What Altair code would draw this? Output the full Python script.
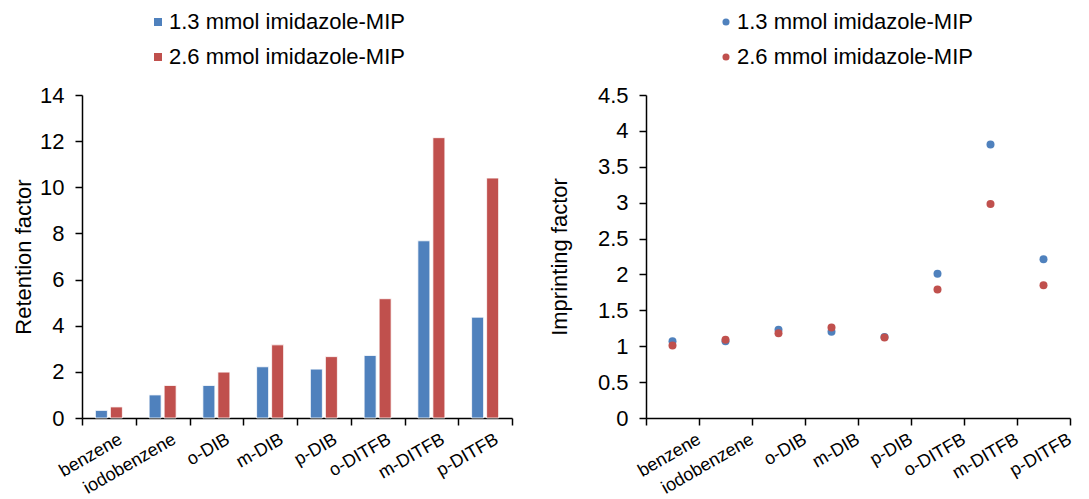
import altair as alt
import pandas as pd

compounds = ["benzene", "iodobenzene", "o-DIB", "m-DIB", "p-DIB", "o-DITFB", "m-DITFB", "p-DITFB"]
series = ["1.3 mmol imidazole-MIP", "2.6 mmol imidazole-MIP"]
retention_13 = [0.33, 1.00, 1.41, 2.22, 2.12, 2.71, 7.68, 4.37]
retention_26 = [0.48, 1.41, 1.99, 3.17, 2.66, 5.17, 12.15, 10.40]
imprint_13 = [1.07, 1.07, 1.23, 1.20, 1.13, 2.01, 3.81, 2.21]
imprint_26 = [1.01, 1.09, 1.18, 1.26, 1.12, 1.79, 2.98, 1.85]
colors = ["#4F81BD", "#C0504D"]
ret_ticks = [0, 2, 4, 6, 8, 10, 12, 14]
imp_ticks = [0, 0.5, 1, 1.5, 2, 2.5, 3, 3.5, 4, 4.5]

FONT = "Liberation Sans"
FS = 22
XFS = 18

df_ret = pd.DataFrame({
    "compound": compounds * 2,
    "series": [series[0]] * len(compounds) + [series[1]] * len(compounds),
    "value": retention_13 + retention_26,
})
df_imp = pd.DataFrame({
    "compound": compounds * 2,
    "series": [series[0]] * len(compounds) + [series[1]] * len(compounds),
    "value": imprint_13 + imprint_26,
})


def x_axis(offset):
    return alt.Axis(title=None, labelAngle=-30, labelAlign="right", labelBaseline="top",
                    labelFontSize=XFS, tickBand="extent", labelOffset=offset,
                    labelPadding=5, domainWidth=1.5)


left = alt.Chart(df_ret).mark_bar(stroke="white", strokeWidth=0.8).encode(
    x=alt.X("compound:N", sort=compounds,
            scale=alt.Scale(paddingInner=0, paddingOuter=0), axis=x_axis(7)),
    xOffset=alt.XOffset("series:N", sort=series,
                        scale=alt.Scale(paddingInner=0.2, paddingOuter=0.89)),
    y=alt.Y("value:Q", scale=alt.Scale(domain=[0, 14]),
            axis=alt.Axis(values=ret_ticks, title="Retention factor", grid=False,
                          labelPadding=11, titlePadding=4)),
    color=alt.Color("series:N", sort=series,
                    scale=alt.Scale(domain=series, range=colors),
                    legend=alt.Legend(title=None, orient="none", legendX=65, legendY=-84,
                                      symbolType="square", symbolSize=64,
                                      symbolStrokeWidth=0, labelOffset=0,
                                      rowPadding=13, padding=0)),
).properties(width=430, height=323)

right = alt.Chart(df_imp).mark_circle(size=64, opacity=1).encode(
    x=alt.X("compound:N", sort=compounds,
            scale=alt.Scale(type="band", paddingInner=0, paddingOuter=0), axis=x_axis(22)),
    y=alt.Y("value:Q", scale=alt.Scale(domain=[0, 4.5]),
            axis=alt.Axis(values=imp_ticks, format="~g", title="Imprinting factor",
                          grid=False, labelPadding=11, titlePadding=26)),
    color=alt.Color("series:N", sort=series,
                    scale=alt.Scale(domain=series, range=colors),
                    legend=alt.Legend(title=None, orient="none", legendX=69, legendY=-84,
                                      symbolType="circle", symbolSize=50,
                                      symbolStrokeWidth=0, labelOffset=0,
                                      rowPadding=13, padding=0)),
).properties(width=424, height=323)

chart = alt.hconcat(left, right, spacing=35).resolve_scale(color="independent").properties(
    padding={"left": 4, "top": 3, "right": 0, "bottom": 0}
).configure_view(stroke=None).configure_axis(
    domainColor="black", tickColor="black", domainWidth=1.5, tickWidth=1.5, tickSize=7,
    labelFont=FONT, labelFontSize=FS, labelColor="black",
    titleFont=FONT, titleFontSize=FS, titleColor="black", titleFontWeight="normal",
).configure_legend(
    labelFont=FONT, labelFontSize=FS, labelColor="black", labelLimit=0,
)

chart.save("out.html", embed_options={"renderer": "svg", "actions": False})
